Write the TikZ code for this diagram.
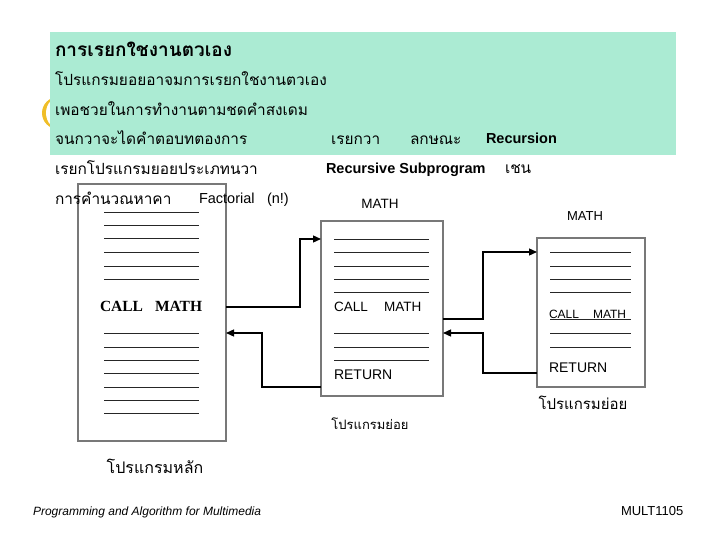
\documentclass[tikz,border=0pt]{standalone}
\usepackage{fontspec}
\setmainfont{Liberation Sans}
\newfontfamily\thai[Script=Thai]{Loma}
\newfontfamily\tnr{Liberation Serif}
\usetikzlibrary{arrows.meta}
\definecolor{mint}{RGB}{171,235,211}
\definecolor{gold}{RGB}{240,190,40}
\definecolor{boxgray}{RGB}{120,120,120}
\begin{document}
\begin{tikzpicture}[x=1pt,y=-1pt,
  txt/.style={anchor=base west,inner sep=0pt,outer sep=0pt},
  thaitxt/.style={txt,font=\thai\fontsize{15.4}{18}\selectfont},
  prog/.style={draw=boxgray,line width=1.1pt,inner sep=0pt,outer sep=0pt},
  inl/.style={line width=0.8pt,black!85},
  arr/.style={line width=1.3pt,-{Triangle[length=8pt,width=7pt]}},
  lbl/.style={inner sep=0pt,font=\thai\fontsize{13}{15}\selectfont}]
\useasboundingbox (0,0) rectangle (720,540);
% yellow crescent and green banner
\fill[gold] (58,113) ellipse [x radius=16, y radius=16];
\fill[white] (62,113) ellipse [x radius=16, y radius=17];
\fill[mint] (50,32) rectangle (676,155);
% banner text
\node[thaitxt,font=\thai\bfseries\fontsize{19}{22}\selectfont] (title) at (55,57) {การเรยกใชงานตวเอง};
\node[thaitxt] (l1) at (55,86) {โปรแกรมยอยอาจมการเรยกใชงานตวเอง};
\node[thaitxt] (l2) at (55,116) {เพอชวยในการทำงานตามชดคำสงเดม};
\node[thaitxt] (l3) at (55,145) {จนกวาจะไดคำตอบทตองการ};
\node[thaitxt] (l3b) at (331,145) {เรยกวา};
\node[thaitxt] (l3c) at (410,145) {ลกษณะ};
\node[txt,font=\bfseries\fontsize{14.5}{17}\selectfont] (l3d) at (486,144) {Recursion};
\node[thaitxt] (l4) at (55,175) {เรยกโปรแกรมยอยประเภทนวา};
\node[txt,font=\bfseries\fontsize{14.5}{17}\selectfont] (l4b) at (326,174) {Recursive Subprogram};
\node[thaitxt] (l4c) at (505,174) {เชน};
% boxes
\node[prog,minimum width=148pt,minimum height=257pt] (main) at (152,312.5) {};
\node[prog,minimum width=122pt,minimum height=175pt] (sub1) at (382,308.5) {};
\node[prog,minimum width=108pt,minimum height=149pt] (sub2) at (591,312.5) {};
\node[thaitxt] (l5) at (55,205) {การคำนวณหาคา};
\node[txt,font=\fontsize{14.5}{17}\selectfont] (l5b) at (199,204) {Factorial};
\node[txt,font=\fontsize{14.5}{17}\selectfont] (l5c) at (267,204) {(n!)};
% main program lines
\foreach \y in {212,225,238,252,266,279,333,347,360,373,387,400,413}
  \draw[inl] (104,\y) -- (199,\y);
\node[txt,font=\tnr\bfseries\fontsize{15.5}{18}\selectfont] (mc) at (100,311) {CALL};
\node[txt,font=\tnr\bfseries\fontsize{15.5}{18}\selectfont] (mm) at (155,311) {MATH};
\node[lbl,font=\thai\fontsize{16}{18}\selectfont] (mainlbl) at (155,466) {โปรแกรมหลัก};
% sub 1
\node[txt,font=\fontsize{13.5}{16}\selectfont,anchor=base] (s1t) at (380,208) {MATH};
\foreach \y in {239,252,266,279,292,333,347,360}
  \draw[inl] (334,\y) -- (429,\y);
\node[txt,font=\fontsize{13.5}{16}\selectfont] (s1c) at (334,311) {CALL};
\node[txt,font=\fontsize{13.5}{16}\selectfont] (s1m) at (384,311) {MATH};
\node[txt,font=\fontsize{14}{17}\selectfont] (s1r) at (334,379) {RETURN};
\node[lbl] (s1lbl) at (370,424) {โปรแกรมย่อย};
% sub 2
\node[txt,font=\fontsize{13}{16}\selectfont,anchor=base] (s2t) at (585,221) {MATH};
\foreach \y in {252,266,279,292,319,333,347}
  \draw[inl] (550,\y) -- (631,\y);
\node[txt,font=\fontsize{12}{14}\selectfont] (s2c) at (549,318) {CALL};
\node[txt,font=\fontsize{12}{14}\selectfont] (s2m) at (593,318) {MATH};
\node[txt,font=\fontsize{14}{17}\selectfont] (s2r) at (549,372) {RETURN};
\node[lbl,font=\thai\fontsize{15}{17}\selectfont] (s2lbl) at (583,403) {โปรแกรมย่อย};
% helper coordinates
\coordinate (a1) at (0,307);
\coordinate (k1) at (300,239);
\coordinate (a2) at (0,387);
\coordinate (k2) at (262,333);
\coordinate (a3) at (0,319);
\coordinate (k3) at (483,252);
\coordinate (a4) at (0,373);
\coordinate (k4) at (483,333);
% connectors
\draw[arr] (main.east |- a1) -| (k1) -- (sub1.west |- k1);
\draw[arr] (sub1.west |- a2) -| (k2) -- (main.east |- k2);
\draw[arr] (sub1.east |- a3) -| (k3) -- (sub2.west |- k3);
\draw[arr] (sub2.west |- a4) -| (k4) -- (sub1.east |- k4);
% footer
\node[txt,font=\itshape\fontsize{12}{14}\selectfont] (foot) at (33,515) {Programming and Algorithm for Multimedia};
\node[txt,font=\fontsize{13}{15}\selectfont] (code) at (621,515) {MULT1105};
\end{tikzpicture}
\end{document}
